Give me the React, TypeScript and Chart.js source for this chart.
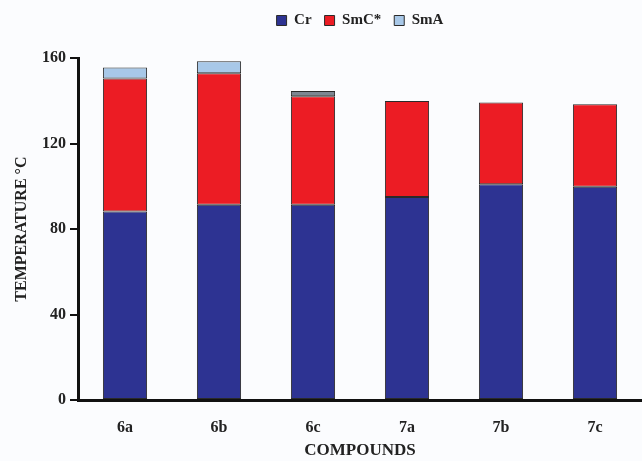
import React, { useEffect, useRef } from "react";
import { Chart, registerables } from "chart.js";

Chart.register(...registerables);

const categories = ["6a", "6b", "6c", "7a", "7b", "7c"];
const crValues = [88.2, 91.4, 91.4, 95.0, 101.0, 99.8];
const smcValues = [62.3, 61.6, 50.8, 45.0, 38.3, 38.7];
const smaValues: (number | null)[] = [5.1, 5.6, 2.4, null, null, null];
const seriesNames = ["Cr", "SmC*", "SmA"];
const yMin = 0;
const yMax = 160;
const yStep = 40;

const FONT = "'Liberation Serif', 'Times New Roman', serif";
const BLUE = "#2d3392";
const RED = "#ec1c24";
const LIGHT = "#a8c8e8";
const GRAY = "#7d8691";
const EDGE = "#2a2a2a";

export default function App() {
  const ref = useRef<HTMLCanvasElement | null>(null);

  useEffect(() => {
    document.body.style.margin = "0";
    const canvas = ref.current;
    if (!canvas) return;
    const chart = new Chart(canvas, {
      type: "bar",
      data: {
        labels: categories,
        datasets: [
          {
            label: seriesNames[0],
            data: crValues,
            backgroundColor: BLUE,
            borderColor: EDGE,
            borderWidth: 1,
            borderSkipped: false,
          },
          {
            label: seriesNames[1],
            data: smcValues,
            backgroundColor: RED,
            borderColor: EDGE,
            borderWidth: 1,
            borderSkipped: false,
          },
          {
            label: seriesNames[2],
            data: smaValues,
            backgroundColor: (ctx: any) => (ctx.dataIndex === 2 ? GRAY : LIGHT),
            borderColor: EDGE,
            borderWidth: 1,
            borderSkipped: false,
          },
        ],
      },
      options: {
        animation: false,
        responsive: false,
        maintainAspectRatio: false,
        layout: { padding: { top: 0, right: 0, left: 0, bottom: 0 } },
        datasets: {
          bar: { barPercentage: 0.47, categoryPercentage: 1 },
        },
        plugins: {
          legend: {
            display: true,
            position: "top",
            fullSize: false,
            labels: {
              boxWidth: 10,
              boxHeight: 10,
              padding: 13,
              color: "#222",
              font: { family: FONT, size: 15, weight: "bold" },
            },
          },
          subtitle: {
            display: true,
            text: " ",
            position: "top",
            weight: 500,
            font: { size: 1 },
            padding: { top: 0, bottom: 19 },
          } as any,
          tooltip: { enabled: false },
        },
        scales: {
          x: {
            stacked: true,
            afterFit: (s: any) => {
              s.height = 61;
            },
            grid: { display: false, drawTicks: false },
            border: { display: true, color: "#111", width: 3 },
            ticks: {
              color: "#222",
              padding: 18,
              font: { family: FONT, size: 16, weight: "bold" },
            },
            title: {
              display: true,
              text: "COMPOUNDS",
              color: "#222",
              padding: { top: 0, bottom: 0 },
              font: { family: FONT, size: 17, weight: "bold" },
            },
          },
          y: {
            stacked: true,
            min: yMin,
            max: yMax,
            afterFit: (s: any) => {
              s.width = 78;
            },
            grid: {
              display: true,
              drawOnChartArea: false,
              drawTicks: true,
              tickLength: 8,
              color: "#111",
              lineWidth: 2,
            },
            border: { display: true, color: "#111", width: 3 },
            ticks: {
              stepSize: yStep,
              color: "#222",
              padding: 4,
              font: { family: FONT, size: 16, weight: "bold" },
            },
            title: {
              display: true,
              text: "TEMPERATURE °C",
              color: "#222",
              padding: { top: 12, bottom: 0 },
              font: { family: FONT, size: 16, weight: "bold" },
            },
          },
        },
      },
    });
    return () => chart.destroy();
  }, []);

  return (
    <div style={{ width: 642, height: 461, background: "#fbfcfe" }}>
      <canvas ref={ref} width={642} height={461} style={{ display: "block" }} />
    </div>
  );
}
